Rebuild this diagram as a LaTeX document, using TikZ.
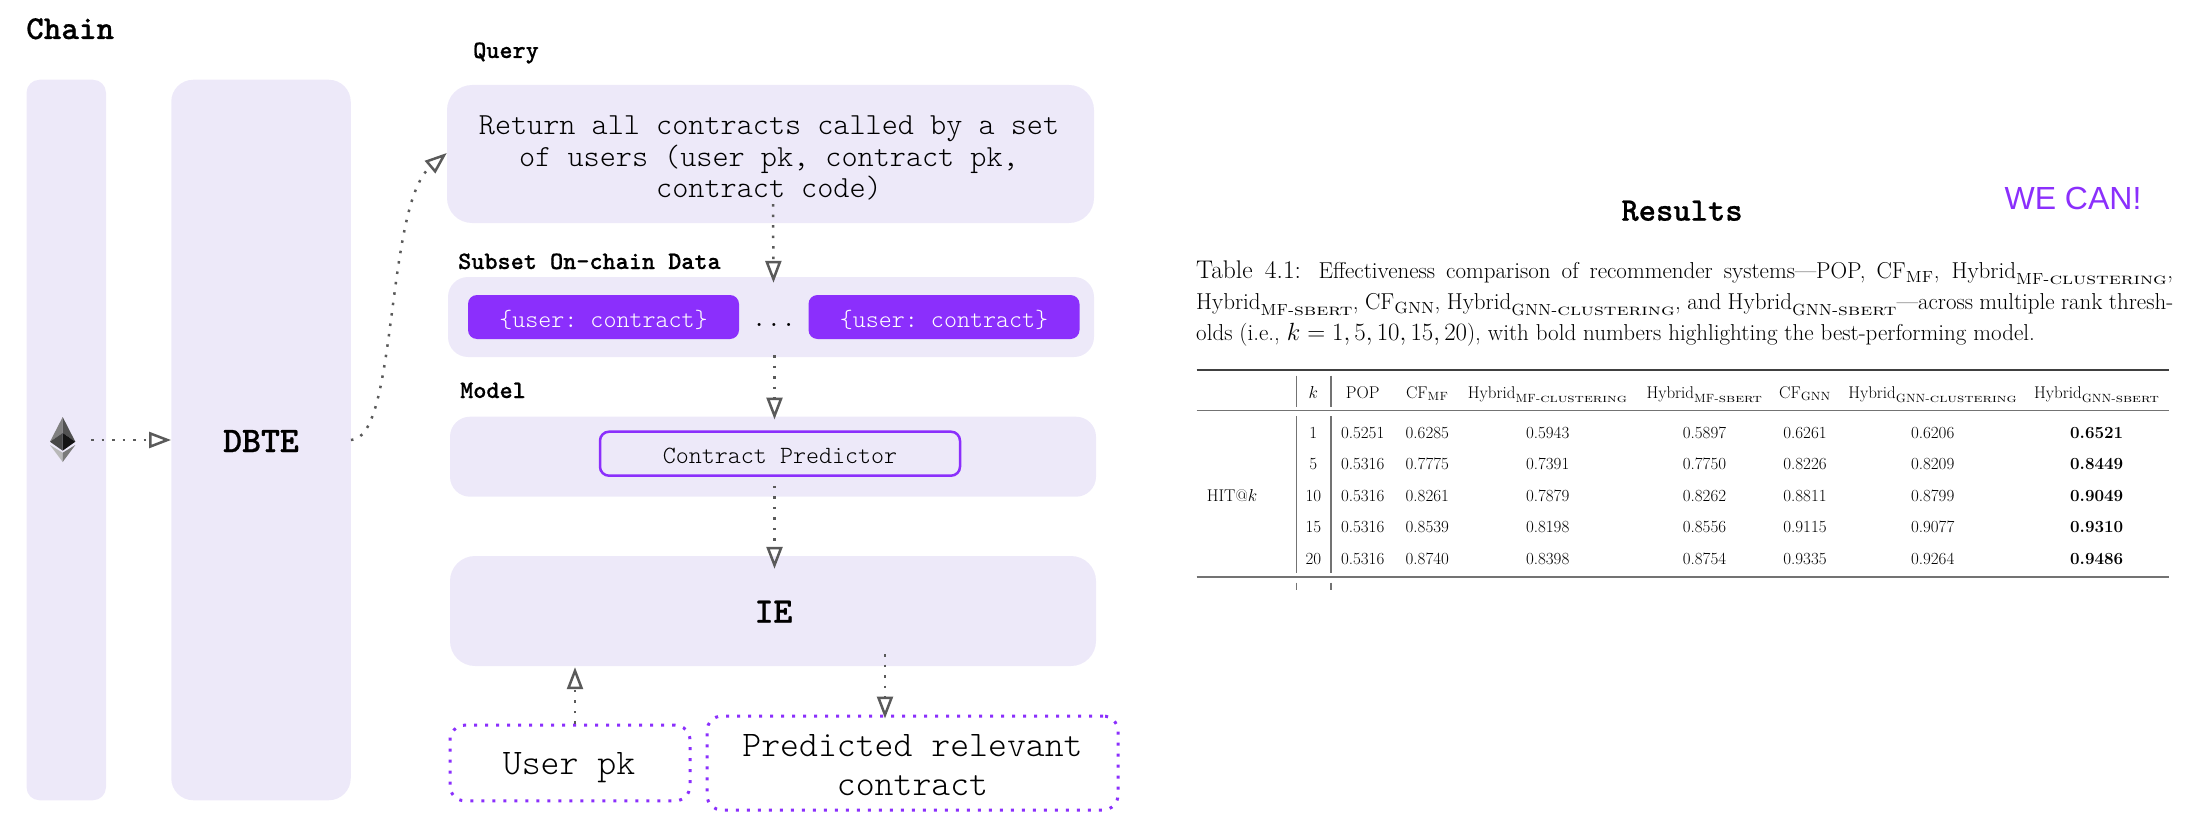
\documentclass[tikz,border=0pt]{standalone}
\usepackage{amsmath,amssymb}
\usepackage{fontspec}
\usetikzlibrary{arrows.meta}
\setmonofont[BoldFeatures={FakeBold=0.6}]{Latin Modern Mono Light}
\newfontfamily\arialfont{Liberation Sans}
\definecolor{lav}{HTML}{EDE9F9}
\definecolor{purp}{HTML}{8B2FFC}
\definecolor{flowgray}{HTML}{5A5A5A}
\newcommand{\fsz}[2]{\fontsize{#1}{#2}\selectfont}
\newcommand{\hyb}[2]{\text{Hybrid}_{\text{\textsc{#1}\scalebox{1.33}[1]{\textsc{#2}}}}}
\newcommand{\cf}[1]{\text{CF}_{\text{\textsc{#1}}}}
\tikzset{
  panel/.style={fill=lav,inner sep=0pt},
  title/.style={font=\ttfamily\bfseries\fsz{25}{30},inner sep=0pt,anchor=base west},
  bigbold/.style={font=\ttfamily\bfseries\fsz{36}{40},inner sep=0pt,anchor=base},
  pill/.style={fill=purp,rounded corners=9pt,minimum width=271pt,minimum height=44pt,inner sep=0pt},
  pilltext/.style={text=white,font=\ttfamily\fsz{24.8}{30},inner sep=0pt,anchor=base},
  dotbox/.style={draw=purp,line width=3pt,dash pattern=on 3pt off 8pt,rounded corners=15pt,inner sep=0pt},
  boxtext/.style={font=\ttfamily\fsz{36}{39.3},inner sep=0pt,align=center},
  flow/.style={->,flowgray,line width=2.5pt,dash pattern=on 2.5pt off 8pt},
  tabcell/.style={font=\fsz{17}{20},inner sep=0pt},
  tabhead/.style={font=\fsz{17}{20},inner sep=0pt,anchor=base},
  tabrule/.style={draw=black!55,line width=1.5pt}
}
\begin{document}
\begin{tikzpicture}[x=1pt,y=-1pt,>={Triangle[open,length=22pt,width=16pt,line width=2.5pt]}]
  \useasboundingbox (0,0) rectangle (2188,832);

  \node[title,font=\ttfamily\bfseries\fsz{33.5}{38}] (chainlabel) at (26,39){Chain};
  \node[panel,rounded corners=13pt,minimum width=79.5pt,minimum height=720.5pt] (chainbar) at (66.25,440){};
  \node[panel,rounded corners=22pt,minimum width=179.5pt,minimum height=720.5pt] (dbte) at (261,440){};
  \node[bigbold] (dbtetext) at (261,452){DBTE};

  \coordinate (eth) at (63,440);
  \fill[black!50] (62.7,417) -- (50,441.7) -- (62.7,433) -- cycle;
  \fill[black!68] (62.7,417) -- (75.3,441.7) -- (62.7,433) -- cycle;
  \fill[black!72] (50,441.7) -- (62.7,433) -- (62.7,450.7) -- cycle;
  \fill[black!92] (75.3,441.7) -- (62.7,433) -- (62.7,450.7) -- cycle;
  \fill[black!28] (50,445) -- (62.7,452.7) -- (62.7,462) -- cycle;
  \fill[black!52] (75.3,445) -- (62.7,452.7) -- (62.7,462) -- cycle;

  \node[title] (querylabel) at (473,58){Query};
  \node[panel,rounded corners=25pt,minimum width=647pt,minimum height=138pt] (query) at (770.5,154){};
  \node[boxtext,font=\ttfamily\fsz{30.7}{31.5}] (querytext) at (769,158){Return all contracts called by a set\\of users (user pk, contract pk,\\contract code)};

  \node[title] (subsetlabel) at (458,269){Subset On-chain Data};
  \node[panel,rounded corners=20pt,minimum width=646pt,minimum height=80pt] (data) at (771,317){};
  \node[pill] (pairleft) at (603.5,317){};
  \node[pill] (pairright) at (944,317){};
  \node[pilltext] (pairlefttext) at (603.5,327){\{user: contract\}};
  \node[pilltext] (pairrighttext) at (944,327){\{user: contract\}};
  \node[font=\ttfamily\fsz{28}{30},inner sep=0pt,anchor=base] (gap) at (774,326){...};

  \node[title] (modellabel) at (460,398){Model};
  \node[panel,rounded corners=20pt,minimum width=646pt,minimum height=80pt] (model) at (773,456.7){};
  \node[draw=purp,line width=2.5pt,rounded corners=9pt,minimum width=360pt,minimum height=44pt,inner sep=0pt] (predictor) at (780,453.7){};
  \node[pilltext,text=black] (predictortext) at (780,463){Contract Predictor};

  \node[panel,rounded corners=25pt,minimum width=646pt,minimum height=110pt] (ie) at (773,611){};
  \node[bigbold] (ietext) at (773.5,622.7){IE};

  \node[dotbox,minimum width=240pt,minimum height=75.7pt] (userpk) at (570,763){};
  \node[boxtext,anchor=base] (userpktext) at (569,774){User pk};
  \node[dotbox,minimum width=411pt,minimum height=94pt] (predicted) at (912.5,763){};
  \node[boxtext] (predictedtext) at (912.5,765){Predicted relevant\\contract};

  \draw[flow] ([xshift=28pt]eth) -- (dbte.west |- eth);
  \draw[flow] (dbte.east |- eth) .. controls (398,439) and (385,205) .. ([yshift=1pt]query.west);
  \draw[flow] ([xshift=2.5pt,yshift=19pt]query.south) -- ([xshift=2.5pt,yshift=-6pt]data.north);
  \draw[flow] ([xshift=3.5pt,yshift=2pt]data.south) -- ([xshift=1.5pt,yshift=-3pt]model.north);
  \draw[flow] ([xshift=1.5pt,yshift=11pt]model.south) -- ([xshift=1.5pt,yshift=-13pt]ie.north);
  \draw[flow] ([xshift=112pt,yshift=12pt]ie.south) -- ([xshift=-27.5pt,yshift=-4pt]predicted.north);
  \draw[flow] ([xshift=5pt]userpk.north) -- ([xshift=5pt,yshift=-1pt]ie.south -| userpk.north);

  \node[title,anchor=base,font=\ttfamily\bfseries\fsz{33}{38}] (results) at (1682,220.7){Results};
  \node[font=\arialfont\fsz{32}{36},text=purp,inner sep=0pt,anchor=base] (wecan) at (2073,209){WE CAN!};

  \node[anchor=north west,inner sep=0pt,text width=977pt,align=justify,font=\fsz{23}{31}] (caption) at (1196,261){{\fsz{25.5}{31}Table 4.1:} Effectiveness comparison of recommender systems---POP, $\cf{MF}$, $\hyb{MF-}{clustering}$,\linebreak $\hyb{MF-}{sbert}$, $\cf{GNN}$, $\hyb{GNN-}{clustering}$, and $\hyb{GNN-}{sbert}$---across multiple rank thresh-\linebreak olds (i.e., $k=1,5,10,15,20$), with bold numbers highlighting the best-performing model.};

  \draw[draw=black!75,line width=2.5pt] (1196.7,370) -- (2169,370);
  \draw[tabrule] (1196.7,410.7) -- (2169,410.7);
  \draw[tabrule,line width=2pt] (1196.7,577) -- (2169,577);
  \foreach \x in {1296.7,1331} {
    \draw[tabrule] (\x,375.7) -- (\x,406.7);
    \draw[tabrule] (\x,416) -- (\x,573);
    \draw[tabrule] (\x,582.7) -- (\x,590);
  }

  \foreach \n/\x/\t in {hk/1313.3/$k$,hpop/1362.7/POP,hcfm/1427.3/$\cf{MF}$,hmfc/1547.7/$\hyb{MF-}{clustering}$,hmfs/1704.5/$\hyb{MF-}{sbert}$,hcfg/1805/$\cf{GNN}$,hgnc/1932.7/$\hyb{GNN-}{clustering}$,hgns/2096.7/$\hyb{GNN-}{sbert}$}
    \node[tabhead] (\n) at (\x,398){\t};

  \node[tabcell] (hit) at (1232,495.7){HIT@$k$};
  \foreach \k/\y/\a/\b/\c/\d/\e/\f/\g in {
    1/432.7/0.5251/0.6285/0.5943/0.5897/0.6261/0.6206/0.6521,
    5/464.3/0.5316/0.7775/0.7391/0.7750/0.8226/0.8209/0.8449,
    10/495.7/0.5316/0.8261/0.7879/0.8262/0.8811/0.8799/0.9049,
    15/527.3/0.5316/0.8539/0.8198/0.8556/0.9115/0.9077/0.9310,
    20/559/0.5316/0.8740/0.8398/0.8754/0.9335/0.9264/0.9486} {
    \node[tabcell] (k\k) at (1313.3,\y){\k};
    \node[tabcell] (pop\k) at (1362.7,\y){\a};
    \node[tabcell] (cfm\k) at (1427.3,\y){\b};
    \node[tabcell] (mfc\k) at (1547.7,\y){\c};
    \node[tabcell] (mfs\k) at (1704.5,\y){\d};
    \node[tabcell] (cfg\k) at (1805,\y){\e};
    \node[tabcell] (gnc\k) at (1932.7,\y){\f};
    \node[tabcell,font=\bfseries\fsz{17}{20}] (gns\k) at (2096.7,\y){\g};
  }
\end{tikzpicture}
\end{document}
